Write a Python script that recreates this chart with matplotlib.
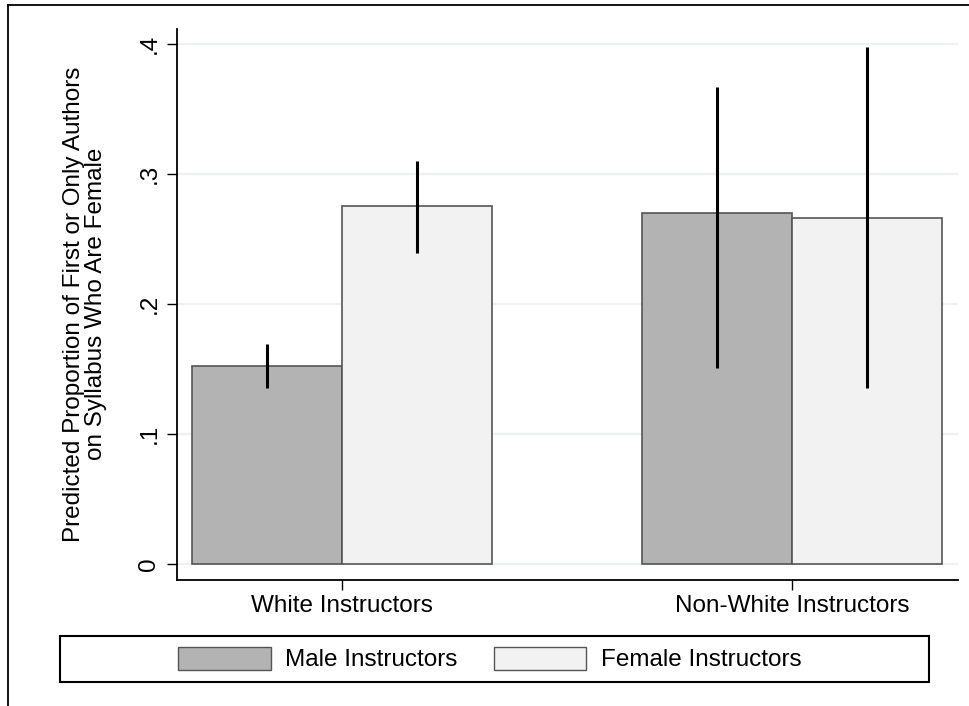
import matplotlib.pyplot as plt
from matplotlib.lines import Line2D
from matplotlib.patches import Rectangle, Patch

plt.rcParams['font.family'] = ['Liberation Sans', 'DejaVu Sans']

groups = ["White Instructors", "Non-White Instructors"]
series = ["Male Instructors", "Female Instructors"]
male = [0.152, 0.270]
female = [0.275, 0.266]
male_lo = [0.135, 0.151]
male_hi = [0.169, 0.367]
female_lo = [0.239, 0.135]
female_hi = [0.310, 0.398]
yticks = [0, 0.1, 0.2, 0.3, 0.4]
ytick_labels = ["0", ".1", ".2", ".3", ".4"]

male_col = "#b3b3b3"
female_col = "#f2f2f2"
fs = 17.5

fig = plt.figure(figsize=(9.69, 7.06), dpi=100)
ax = fig.add_axes([177 / 969, 1 - 580 / 706, 781 / 969, 551 / 706])

w = 1 / 3
xs = list(range(len(groups)))
xm = [x - w / 2 for x in xs]
xf = [x + w / 2 for x in xs]

for y in yticks:
    ax.axhline(y, color="#eaf2f3", lw=1.6, zorder=0)

ax.bar(xm, male, width=w, color=male_col, edgecolor="#555555", lw=1.2, zorder=2)
ax.bar(xf, female, width=w, color=female_col, edgecolor="#555555", lw=1.2, zorder=2)
ax.vlines(xm, male_lo, male_hi, color="black", lw=2.2, zorder=3)
ax.vlines(xf, female_lo, female_hi, color="black", lw=2.2, zorder=3)

ax.set_xlim(-0.3667, 1.3689)
ax.set_ylim(-0.0123, 0.4115)
ax.set_yticks(yticks)
ax.set_yticklabels(ytick_labels, rotation=90, va="center", fontsize=fs)
ax.set_xticks(xs)
ax.set_xticklabels(groups, fontsize=fs)
ax.tick_params(axis="y", length=7, width=1, pad=5)
ax.tick_params(axis="x", length=7, width=1, pad=4)

for s in ["top", "right"]:
    ax.spines[s].set_visible(False)
for s in ["left", "bottom"]:
    ax.spines[s].set_linewidth(1.3)

fig.text(85 / 969, 1 - 304 / 706,
         "Predicted Proportion of First or Only Authors\non Syllabus Who Are Female",
         rotation=90, ha="center", va="center", fontsize=fs, linespacing=1.05)

# legend box
fig.patches.append(Rectangle((60 / 969, 1 - 682 / 706), 869 / 969, 46 / 706,
                             transform=fig.transFigure, fill=False,
                             edgecolor="black", lw=1.5))
handles = [Patch(facecolor=male_col, edgecolor="#555555", lw=1),
           Patch(facecolor=female_col, edgecolor="#555555", lw=1)]
fig.legend(handles, series, loc="center", bbox_to_anchor=(490 / 969, 1 - 659 / 706),
           ncol=2, frameon=False, fontsize=fs, handlelength=3.8, handleheight=1.1,
           handletextpad=0.6, columnspacing=1.5)

# outer frame edges
fig.add_artist(Line2D([8 / 969, 1], [1 - 5 / 706, 1 - 5 / 706], color="black", lw=1.3))
fig.add_artist(Line2D([8 / 969, 8 / 969], [0, 1 - 5 / 706], color="black", lw=1.3))

fig.savefig("out.png", dpi=100)
